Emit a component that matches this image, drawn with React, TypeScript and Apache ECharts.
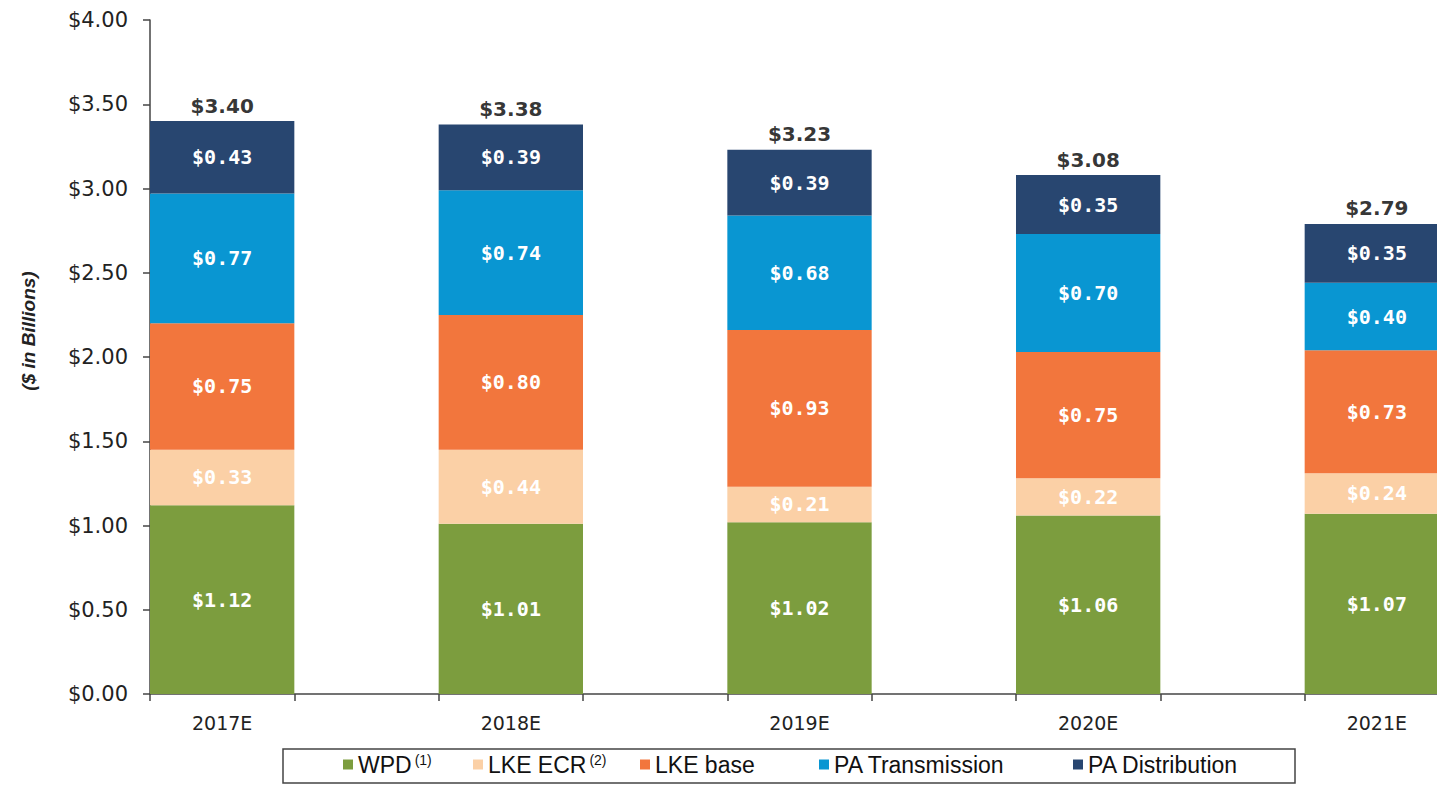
import React, { useEffect, useRef } from "react";
import * as echarts from "echarts";

const categories = ["2017E", "2018E", "2019E", "2020E", "2021E"];
const wpd = [1.12, 1.01, 1.02, 1.06, 1.07];
const lkeEcr = [0.33, 0.44, 0.21, 0.22, 0.24];
const lkeBase = [0.75, 0.8, 0.93, 0.75, 0.73];
const paTransmission = [0.77, 0.74, 0.68, 0.7, 0.4];
const paDistribution = [0.43, 0.39, 0.39, 0.35, 0.35];
const totals = [3.4, 3.38, 3.23, 3.08, 2.79];
const yTicks = [0, 0.5, 1, 1.5, 2, 2.5, 3, 3.5, 4];

const seriesNames = ["WPD", "LKE ECR", "LKE base", "PA Transmission", "PA Distribution"];
const seriesColors = ["#7c9d3e", "#fbd0a6", "#f2763d", "#0996d2", "#284670"];
const legendLefts = [343, 473, 640, 819, 1073];

// pad categories with empty slots so bars sit in alternating bands
const padded = <T,>(arr: T[], fill: any): any[] => {
  const out: any[] = [];
  arr.forEach((v, i) => {
    out.push(v);
    if (i < arr.length - 1) out.push(fill);
  });
  return out;
};

export default function App() {
  const ref = useRef<HTMLDivElement>(null);
  useEffect(() => {
    if (!ref.current) return;
    const chart = echarts.init(ref.current, undefined, { renderer: "svg" });
    const seriesData = [wpd, lkeEcr, lkeBase, paTransmission, paDistribution];
    const barSeries = seriesNames.map((name, i) => ({
      name,
      type: "bar",
      stack: "total",
      barWidth: "100%",
      barCategoryGap: 0,
      data: padded(seriesData[i], "-"),
      itemStyle: { color: seriesColors[i] },
      label: {
        show: true,
        position: "inside",
        color: "#ffffff",
        fontFamily: "DejaVu Sans Mono",
        fontWeight: "bold",
        fontSize: 20,
        formatter: (p: any) => "$" + Number(p.value).toFixed(2),
      },
    }));
    const option: any = {
      animation: false,
      grid: { left: 150, right: 0, top: 20, bottom: 92, containLabel: false },
      xAxis: {
        type: "category",
        data: padded(categories, ""),
        boundaryGap: true,
        axisLine: { show: true, lineStyle: { color: "#444", width: 1.5 } },
        axisTick: { show: true, interval: 0, length: 7, lineStyle: { color: "#444", width: 1.5 } },
        axisLabel: {
          interval: 0,
          margin: 19,
          color: "#222",
          fontFamily: "DejaVu Sans",
          fontSize: 19,
        },
      },
      yAxis: {
        type: "value",
        min: 0,
        max: 4,
        interval: 0.5,
        splitLine: { show: false },
        axisLine: { show: true, lineStyle: { color: "#444", width: 1.5 } },
        axisTick: { show: true, length: 7, lineStyle: { color: "#444", width: 1.5 } },
        axisLabel: {
          margin: 22,
          color: "#222",
          fontFamily: "DejaVu Sans",
          fontSize: 21,
          formatter: (v: number) => (yTicks.includes(v) ? "$" + v.toFixed(2) : ""),
        },
      },
      legend: seriesNames.map((name, i) => ({
        data: [name],
        left: legendLefts[i],
        top: 753,
        padding: 0,
        icon: "rect",
        itemWidth: 10,
        itemHeight: 10,
        selectedMode: false,
        textStyle: {
          color: "#111",
          fontFamily: "Liberation Sans",
          fontSize: 23,
          rich: {
            sup: { fontSize: 14, verticalAlign: "top", padding: [0, 0, 5, 3], fontFamily: "Liberation Sans", color: "#111" },
          },
        },
        formatter: (n: string) =>
          n === "WPD" ? "WPD{sup|(1)}" : n === "LKE ECR" ? "LKE ECR{sup|(2)}" : n,
      })),
      graphic: [
        {
          type: "rect",
          shape: { x: 283, y: 749, width: 1012, height: 34 },
          style: { fill: "none", stroke: "#444", lineWidth: 1.5 },
          silent: true,
        },
        {
          type: "text",
          x: 28,
          y: 331,
          rotation: Math.PI / 2,
          style: {
            text: "($ in Billions)",
            fontFamily: "Liberation Sans",
            fontWeight: "bold",
            fontStyle: "italic",
            fontSize: 19,
            fill: "#222",
            textAlign: "center",
            textVerticalAlign: "middle",
          },
        },
      ],
      series: [
        ...barSeries,
        {
          name: "Total",
          type: "scatter",
          symbolSize: 1,
          itemStyle: { color: "rgba(0,0,0,0)" },
          data: padded(totals, "-"),
          label: {
            show: true,
            position: "top",
            distance: 5,
            color: "#000",
            fontFamily: "DejaVu Sans",
            fontWeight: "bold",
            fontSize: 20,
            formatter: (p: any) => "$" + Number(p.value).toFixed(2),
          },
        },
      ],
    };
    chart.setOption(option);
    return () => chart.dispose();
  }, []);
  return (
    <div
      ref={ref}
      style={{ position: "fixed", left: 0, top: 0, width: 1449, height: 786, background: "#fff" }}
    />
  );
}
